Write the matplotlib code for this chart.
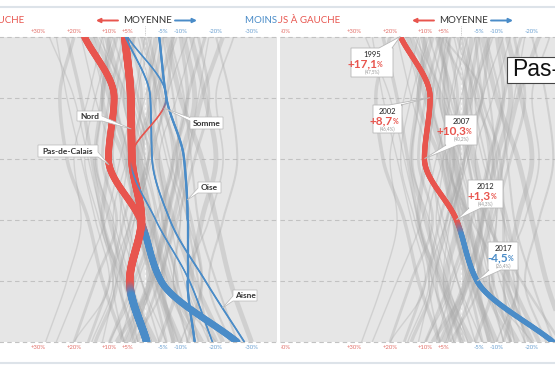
import numpy as np
import matplotlib
matplotlib.use("Agg")
import matplotlib.pyplot as plt
from matplotlib import transforms as mtransforms
from matplotlib.collections import LineCollection
from matplotlib.patches import Polygon, Rectangle, FancyArrowPatch
from matplotlib.colors import to_rgb

plt.rcParams['font.family'] = ['Lato', 'DejaVu Sans']

years = [1995, 2002, 2007, 2012, 2017, 2022]
# écart au vote de gauche national (points), positif = plus à gauche
pas_de_calais = [17.1, 8.7, 10.3, 1.3, -4.5, -26.0]
nord = [5.7, 4.0, 3.7, 1.0, 4.3, -0.5]
somme = [5.0, -6.0, 4.0, -3.0, -12.5, -19.0]
oise = [-4.0, -6.0, -11.0, -12.0, -12.0, -14.0]
aisne = [5.5, -1.5, -2.0, -7.0, -17.0, -28.0]

pdc_labels = ['+17,1', '+8,7', '+10,3', '+1,3', '-4,5']
pdc_share = ['(47,5%)', '(46,4%)', '(40,2%)', '(44,3%)', '(26,4%)']

tick_values = [50, 30, 20, 10, 5, -5, -10, -20, -30]

# autres départements (gris)
gray_paths = [
    [22, 18, 15, 12, 8, 14], [-18, -15, -12, -10, -8, -20],
    [10, 12, 14, 10, 5, -3], [-5, -8, -10, -12, -15, -18],
    [3, 5, 2, 6, 10, 16], [-12, -6, -2, 3, 8, 12],
    [15, 10, 5, 2, -3, -10], [-25, -20, -22, -18, -12, -15],
    [7, 2, -3, -6, -2, 4], [0, 3, 7, 11, 18, 25],
    [-8, -3, 1, -2, -6, -14], [12, 16, 20, 18, 22, 28],
    [-3, -1, -4, -8, -14, -22], [5, 8, 4, -1, -5, 3],
    [-15, -18, -14, -9, -4, 2], [18, 14, 9, 6, 1, -6],
    [-6, -10, -16, -20, -24, -30], [9, 4, 0, 4, 9, 6],
    [-1, -5, -8, -3, 3, 10], [25, 22, 18, 14, 10, 20],
    [-10, -12, -8, -5, -9, -4], [2, -2, -6, -10, -8, -12],
    [14, 8, 10, 12, 6, 0], [-20, -24, -26, -22, -18, -24],
    [6, 10, 12, 8, 14, 20], [-4, 0, 5, 9, 6, -2],
    [11, 6, 2, -2, -7, -16], [-9, -4, -7, -12, -16, -10],
    [4, 1, 3, 0, -3, -8], [-2, 2, -1, 3, 5, 2],
    [20, 24, 22, 16, 12, 6], [-14, -9, -4, -7, -11, -18],
    [8, 12, 6, 2, -1, 8], [-7, -11, -13, -15, -20, -26],
    [1, -3, -1, 2, -2, -6], [16, 12, 14, 9, 4, -2],
    [-11, -14, -10, -6, -2, 5], [3, 7, 9, 5, 1, -4],
    [-17, -12, -9, -13, -16, -12], [12, 9, 5, 7, 3, 10],
    [-5, -2, 2, -1, -4, -9], [27, 20, 16, 12, 8, 2],
    [-22, -16, -12, -8, -5, -8], [6, 3, -2, -5, -9, -14],
    [0, -4, -9, -6, -1, 6], [9, 14, 17, 13, 9, 15],
    [-13, -17, -20, -16, -13, -20], [4, 6, 1, -3, 2, 7],
    [-8, -6, -1, 4, 7, 3], [13, 5, 0, -4, -8, -12],
]
gray_widths = [2.5, 1.0, 3.0, 1.5, 2.0, 1.0, 3.5, 1.2, 2.2, 1.0] * 5

RED = '#e8554e'
BLUE = '#4a8cc8'
BG = '#e6e6e6'
W, H = 555, 370
Y0, Y1 = 36.5, 342.0
SCALE = 3.55

fig = plt.figure(figsize=(W / 100, H / 100), dpi=100)
pix = mtransforms.Affine2D().scale(1 / W, -1 / H).translate(0, 1) + fig.transFigure


def hermite(vals, n=40):
    v = np.asarray(vals, float)
    d = np.diff(v)
    m = np.empty_like(v)
    m[0], m[-1] = d[0], d[-1]
    for k in range(1, len(v) - 1):
        m[k] = 2 / (1 / d[k - 1] + 1 / d[k]) if d[k - 1] * d[k] > 0 else 0.0
    t = np.linspace(0, 1, n)
    h00 = 2 * t**3 - 3 * t**2 + 1
    h10 = t**3 - 2 * t**2 + t
    h01 = -2 * t**3 + 3 * t**2
    h11 = t**3 - t**2
    segs = []
    for k in range(len(v) - 1):
        x = h00 * v[k] + h10 * m[k] + h01 * v[k + 1] + h11 * m[k + 1]
        segs.append((k + t, x))
    return segs


def value_at(vals, idx):
    segs = hermite(vals, 400)
    k = min(int(idx), len(segs) - 1)
    yy, xx = segs[k]
    return np.interp(idx, yy, xx)


def draw_gray(ax, vals, lw):
    segs = hermite(vals)
    yy = np.concatenate([s[0] for s in segs])
    xx = np.concatenate([s[1] for s in segs])
    ax.plot(xx, yy, color='#a9a9a9', lw=lw, alpha=0.35, zorder=2,
            solid_capstyle='butt')


def draw_colored(ax, vals, lw, z):
    red, blue = np.array(to_rgb(RED)), np.array(to_rgb(BLUE))
    lines, cols = [], []
    prev = None
    for k, (yy, xx) in enumerate(hermite(vals, 60)):
        cur = red if vals[k + 1] > 0 else blue
        if prev is None:
            prev = cur
        pts = np.column_stack([xx, yy])
        for j in range(len(pts) - 1):
            tm = (yy[j] + yy[j + 1]) / 2 - k
            s = np.clip((tm - 0.05) / 0.2, 0, 1)
            lines.append(pts[j:j + 2])
            cols.append(prev * (1 - s) + cur * s)
        prev = cur
    ax.add_collection(LineCollection(lines, colors=cols, linewidths=lw,
                                     capstyle='round', zorder=z))


def add_panel(left, right, center):
    ax = fig.add_axes([left / W, (H - Y1) / H, (right - left) / W, (Y1 - Y0) / H])
    ax.set_xlim((center - left) / SCALE, (center - right) / SCALE)
    ax.set_ylim(len(years) - 1, 0)
    ax.set_facecolor(BG)
    for s in ax.spines.values():
        s.set_visible(False)
    ax.set_xticks([])
    ax.set_yticks([])
    for i in range(len(years)):
        ax.axhline(i, color='#c2c2c2', lw=0.8, ls=(0, (4, 3)), zorder=1,
                   clip_on=False)
    ax.axvline(0, color='white', lw=0.9, ls=(0, (2, 2)), alpha=0.8, zorder=1)
    clip = mtransforms.Bbox.from_extents(max(left, 0) + 0.5, 0, right, H)
    blend = mtransforms.blended_transform_factory(ax.transData, ax.transAxes)
    for v in tick_values:
        px = center - SCALE * v
        if px < 0 or px > W:
            continue
        lab = f'+{v}%' if v > 0 else f'{v}%'
        col = '#e2706a' if v > 0 else '#6a9fd0'
        for yy in (1.017, -0.017):
            t = ax.text(v, yy, lab, transform=blend, ha='center', va='center',
                        fontsize=4.3, color=col, clip_on=True)
            t.set_clip_box(clip)
    ax.plot([0, 0], [1.005, 1.035], transform=blend, color='#bdbdbd', lw=0.6,
            ls=(0, (1, 1)), clip_on=False)
    return ax


def header(center, clip):
    items = [
        fig.text(center - 121, 20.5, 'PLUS À GAUCHE', transform=pix, ha='right',
                 va='center', fontsize=7, color=RED),
        fig.text(center + 2, 20.5, 'MOYENNE', transform=pix, ha='center',
                 va='center', fontsize=7, color='#333333'),
        fig.text(center + 100, 20.5, 'MOINS À GAUCHE', transform=pix, ha='left',
                 va='center', fontsize=7, color=BLUE),
    ]
    for t in items:
        t.set_clip_on(True)
        t.set_clip_box(clip)
    for a, b, c in [(center - 27, center - 49, RED), (center + 30, center + 52, BLUE)]:
        fig.add_artist(FancyArrowPatch((a, 20.5), (b, 20.5), transform=pix,
                                       arrowstyle='-|>', mutation_scale=6,
                                       lw=1.4, color=c, shrinkA=0, shrinkB=0))


def callout(x0, y0, x1, y1, tip, edge, b1, b2, lw=0.6):
    if edge == 'top':
        v = [(x0, y0), (b1, y0), tip, (b2, y0), (x1, y0), (x1, y1), (x0, y1)]
    elif edge == 'bottom':
        v = [(x0, y0), (x1, y0), (x1, y1), (b2, y1), tip, (b1, y1), (x0, y1)]
    elif edge == 'left':
        v = [(x0, y0), (x1, y0), (x1, y1), (x0, y1), (x0, b2), tip, (x0, b1)]
    else:
        v = [(x0, y0), (x1, y0), (x1, b1), tip, (x1, b2), (x1, y1), (x0, y1)]
    fig.add_artist(Polygon(v, closed=True, transform=pix, fc='white',
                           ec='#b8b8b8', lw=lw, zorder=3))


def tip_at(ax, vals, i):
    x, y = ax.transData.transform((value_at(vals, i), i))
    return (x, H - y)


def tip_py(ax, vals, py):
    idx = (py - Y0) / (Y1 - Y0) * (len(years) - 1)
    return tip_at(ax, vals, idx)


# --- panneau gauche : départements picards et nordistes
ax1 = add_panel(-40, 277, 145)
for vals, lw in zip(gray_paths, gray_widths):
    draw_gray(ax1, vals, lw)
draw_colored(ax1, pas_de_calais, 4.8, 4)
draw_colored(ax1, nord, 5.5, 5)
draw_colored(ax1, oise, 1.6, 6)
draw_colored(ax1, aisne, 1.2, 6)
draw_colored(ax1, somme, 1.1, 7)

# --- panneau droit : Pas-de-Calais
ax2 = add_panel(280, 600, 461)
for vals, lw in zip(gray_paths + [nord, somme, oise, aisne],
                    gray_widths + [4.0, 1.5, 2.0, 1.8]):
    draw_gray(ax2, vals, lw)
draw_colored(ax2, pas_de_calais, 3.8, 5)

header(145, mtransforms.Bbox.from_extents(0, 0, 277.5, H))
header(461, mtransforms.Bbox.from_extents(278, 0, W, H))

# lignes de séparation
for y in (7, 363):
    fig.add_artist(plt.Line2D([0, W], [y, y], transform=pix, color='#dde3e9', lw=1.5))

# étiquettes du panneau gauche
labels = [
    ('Nord', nord, (77, 111, 102, 121), 'right', (116, 121), 129),
    ('Pas-de-Calais', pas_de_calais, (38, 145, 98, 157), 'right', (152, 157), 165),
    ('Somme', somme, (190, 117, 223, 129), 'left', (117.5, 121), 108),
    ('Oise', oise, (198, 182, 221, 193), 'left', (188, 193), 200),
    ('Aisne', aisne, (233, 290, 257, 301), 'left', (296, 301), 308),
]
for name, vals, (x0, y0, x1, y1), edge, (b1, b2), py in labels:
    callout(x0, y0, x1, y1, tip_py(ax1, vals, py), edge, b1, b2, lw=0.5)
    fig.text((x0 + x1) / 2, (y0 + y1) / 2 + 0.3, name, transform=pix, ha='center',
             va='center', fontsize=6, fontweight='bold', color='#333333', zorder=4)

# bulles du Pas-de-Calais
boxes = [
    ((351, 48, 393, 77), 'top', (379, 392)),
    ((373, 105, 402, 133), 'top', (389, 401)),
    ((445, 115, 477, 145), 'bottom', (446, 458)),
    ((468, 180, 503, 208), 'bottom', (469, 481)),
    ((488, 242, 518, 270), 'bottom', (489, 501)),
]
for i, ((x0, y0, x1, y1), edge, (b1, b2)) in enumerate(boxes):
    callout(x0, y0, x1, y1, tip_at(ax2, pas_de_calais, i), edge, b1, b2)
    cx = (x0 + x1) / 2
    col = RED if pas_de_calais[i] > 0 else BLUE
    fig.text(cx, y0 + 6.5, str(years[i]), transform=pix, ha='center', va='center',
             fontsize=5.5, color='#222222', zorder=4)
    fig.text(cx + 5, y0 + 15.5, pdc_labels[i], transform=pix, ha='right',
             va='center', fontsize=8.5, fontweight='bold', color=col, zorder=4)
    fig.text(cx + 5.2, y0 + 16.5, '%', transform=pix, ha='left', va='center',
             fontsize=5, fontweight='bold', color=col, zorder=4)
    fig.text(cx, y0 + 24, pdc_share[i], transform=pix, ha='center', va='center',
             fontsize=3.3, color='#9a9a9a', zorder=4)

# titre du panneau droit
fig.add_artist(Rectangle((507, 56.5), 100, 26, transform=pix, fc='white',
                         ec='#444444', lw=0.8, zorder=3))
fig.text(512, 70, 'Pas-de-Calais', transform=pix, ha='left', va='center',
         fontsize=16.5, family='Liberation Sans', color='#111111', zorder=4)

fig.savefig('out.png', dpi=100)
